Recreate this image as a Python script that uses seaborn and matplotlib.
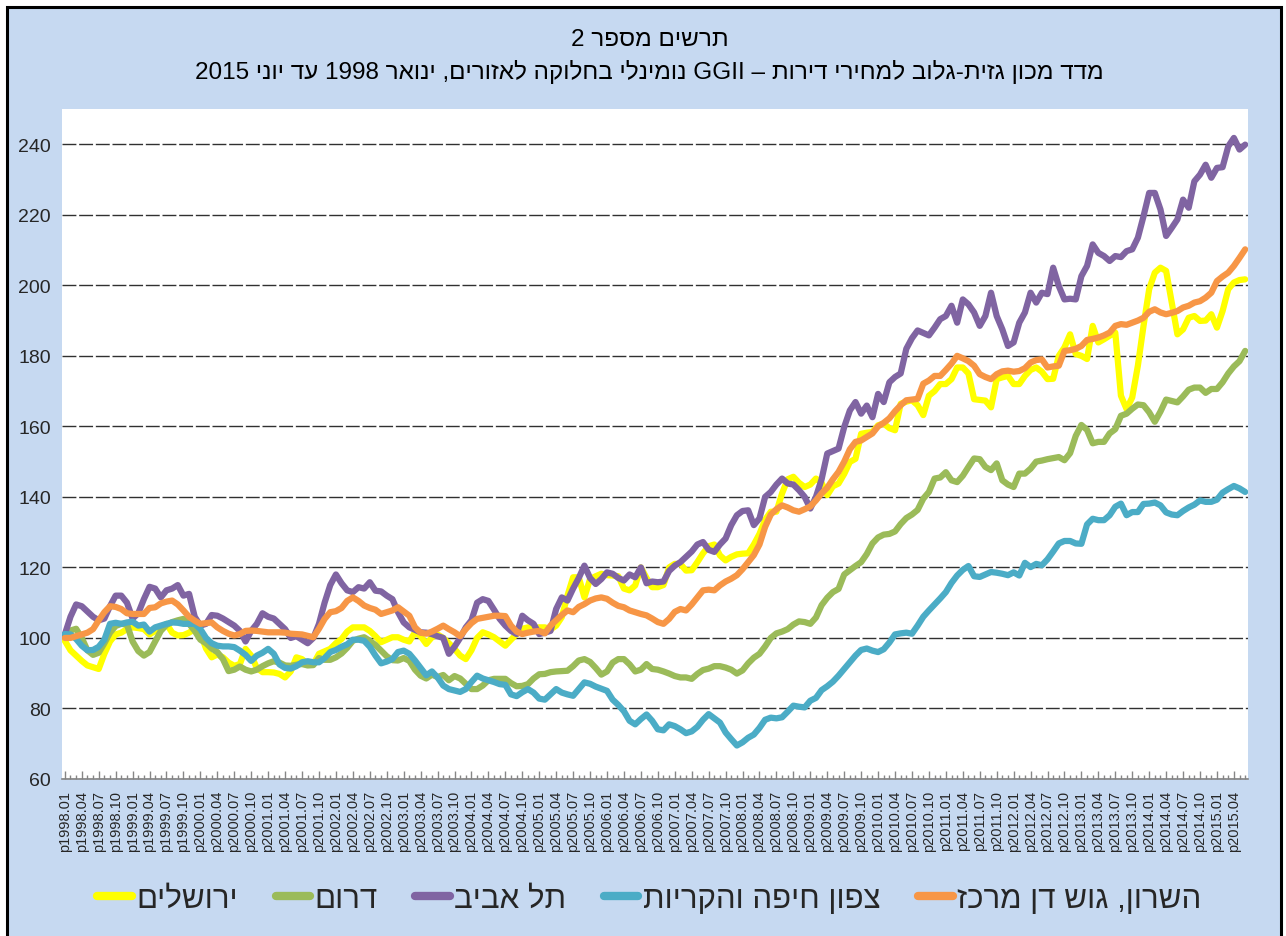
import re
import numpy as np
import pandas as pd
import matplotlib
matplotlib.use("Agg")
import matplotlib.pyplot as plt
import seaborn as sns
from matplotlib.patches import Rectangle

# ---------------- data ----------------
title1 = "תרשים מספר 2"
title2 = "מדד מכון גזית-גלוב למחירי דירות – GGII נומינלי בחלוקה לאזורים, ינואר 1998 עד יוני 2015"

regions = ["ירושלים", "דרום", "תל אביב", "צפון חיפה והקריות", "השרון, גוש דן מרכז"]
colors = ["#FFFF00", "#9BBB59", "#8064A2", "#4BACC6", "#F79646"]

start_year, start_month = 1998, 1
n_months = 210  # 1998.01 .. 2015.06

jerusalem = [
    99.2, 96.5, 95, 93.5, 92.2, 91.7, 91.2, 95.5, 99, 101, 101.5, 102.5,
    103, 102.8, 102.5, 101, 102, 103, 104, 101.5, 100.7, 100.8, 101.5, 102.6,
    101.5, 97, 94.5, 95.3, 94.5, 93, 92.1, 92.6, 96.9, 95, 91.5, 90.3,
    90.3, 90.2, 89.8, 88.8, 90.5, 94.5, 94, 92.6, 92.6, 95.5, 96.2, 96.9,
    98.5, 99.7, 101.8, 103, 103, 103, 102, 100.5, 98.8, 99.5, 100.2, 100.2,
    99.5, 99, 101.6, 100.5, 98.3, 100.2, 101, 100, 98.5, 96.9, 95, 94,
    96.5, 100, 101.6, 101, 100.2, 99, 97.8, 99.5, 101.1, 102.6, 103, 102.8,
    103, 103, 102.4, 103.5, 105.9, 112, 117.2, 117.2, 111.5, 116.7, 117.5, 118.2,
    117.8, 117.7, 117.5, 114, 113.5, 114.9, 120, 117, 114.4, 114.4, 115, 120,
    121, 121, 119.1, 119.2, 121.5, 124, 126, 126.5, 123.4, 122, 123, 123.7,
    123.9, 124, 126.5, 129.5, 133.5, 135.8, 135.8, 141, 145, 145.7, 144, 142.8,
    143.5, 145.2, 144, 140.5, 143, 143.8, 146.5, 149.9, 150.8, 157.9, 158.2, 158.4,
    160.3, 160.8, 159.5, 158.9, 166.4, 167, 167.4, 166, 163.2, 168.7, 170, 172,
    172, 173.4, 176.7, 176.7, 175, 167.7, 167.5, 167.3, 165.4, 173.4, 173.9, 174.3,
    172, 172, 174.3, 176, 176.7, 175.5, 173.4, 173.5, 180, 182.4, 186.1, 180.5,
    180, 179.1, 188.5, 183.8, 184.7, 185.7, 186.6, 168.7, 164.9, 168.2, 177.2, 188.5,
    198.9, 203.6, 205, 204.1, 195.1, 186.1, 187.5, 190.8, 191.3, 189.9, 190, 191.8,
    188, 192.7, 198.9, 200.8, 201.5, 201.7,
]

south = [
    100.7, 102.1, 102.6, 100, 96.5, 95.2, 95.8, 98.5, 101.5, 103.4, 104, 103.8,
    99, 96.3, 95, 96, 99, 102, 103.7, 104.5, 105, 105.4, 104, 102,
    99.5, 98.5, 97, 96, 94, 90.6, 91, 91.9, 91, 90.5, 91, 92,
    92.8, 93.4, 93, 92.2, 92.1, 92.4, 92.6, 92.2, 92.3, 94.3, 93.8, 93.8,
    94.5, 95.6, 97.2, 99.2, 99.8, 100.2, 99.2, 98, 96.4, 94.8, 93.7, 93.6,
    94.3, 93.5, 91, 89.3, 88.5, 89.6, 88.9, 89.5, 88, 89.2, 88.5, 87,
    85.5, 85.5, 86.5, 88, 88.4, 88.4, 88.4, 87.2, 86.3, 86.4, 86.9, 88.5,
    89.7, 89.8, 90.3, 90.5, 90.6, 90.7, 92, 93.6, 94, 93.2, 91.5, 89.6,
    90.5, 93, 94, 94, 92.5, 90.5, 91, 92.6, 91.2, 91, 90.5, 89.9,
    89.2, 88.8, 88.8, 88.4, 89.8, 90.9, 91.3, 92, 92, 91.6, 91, 89.9,
    90.8, 92.8, 94.4, 95.5, 97.6, 100, 101.3, 101.8, 102.5, 103.8, 104.7, 104.5,
    104, 105.8, 109.3, 111.4, 113, 113.9, 118, 119.2, 120.4, 121.5, 123.8, 126.8,
    128.5, 129.3, 129.5, 130.2, 132.3, 134, 135, 136.3, 139.5, 141.4, 145.2, 145.5,
    147, 144.7, 144.2, 146, 148.5, 150.9, 150.7, 148.5, 147.6, 149.5, 144.7, 143.5,
    142.8, 146.6, 146.6, 148, 150, 150.3, 150.7, 151, 151.3, 150.4, 152.4, 157.3,
    160.4, 159, 155.2, 155.6, 155.6, 158, 159.2, 163, 163.6, 165, 166.2, 166,
    164, 161.3, 164.2, 167.6, 167.2, 166.8, 168.5, 170.4, 171, 171, 169.5, 170.6,
    170.6, 172.5, 175, 177, 178.5, 181.4,
]

tel_aviv = [
    101, 106, 109.5, 109, 107.5, 106, 105, 105.5, 109, 112, 112, 110,
    105.5, 107, 111, 114.5, 114, 111.5, 113.5, 114, 115, 112, 112.5, 106,
    103.5, 104, 106.5, 106.3, 105.5, 104.5, 103.5, 102, 99, 102, 104, 107,
    106, 105.5, 104, 102.5, 100, 100.5, 99.5, 98.5, 100, 104, 110, 115,
    118, 115.5, 113.5, 113, 114.4, 114, 115.8, 113.4, 113.2, 112, 111, 107.3,
    104.4, 103, 102.3, 101.6, 101.5, 101.1, 100.5, 100, 95.5, 97.5, 100, 103,
    105, 110, 111, 110.5, 108, 105.4, 103.5, 102, 101.1, 106.3, 105, 104,
    101.1, 101.5, 102, 108.2, 111.5, 110.6, 114, 117, 120.5, 117, 115.3, 116.7,
    118.6, 118.2, 117, 116.3, 118, 117.2, 120, 115.5, 116, 115.8, 116, 119,
    120.5, 121.5, 123, 124.5, 126.5, 127.2, 125, 124.4, 126.5, 128.2, 132, 134.8,
    136, 136.2, 132, 133.9, 140, 141.4, 143.5, 145.2, 143.8, 143.5, 141.9, 140,
    136.7, 140, 145, 152.3, 153, 153.7, 159.8, 164.5, 166.9, 163.6, 165.9, 162.6,
    169.2, 166.9, 172.5, 174, 175, 182, 185, 187.2, 186.5, 185.8, 188, 190.4,
    191.3, 194.2, 189.4, 196, 194.6, 192.3, 188.5, 191.3, 197.9, 191.3, 187.5, 182.8,
    183.8, 189.4, 192.3, 197.9, 195.1, 197.9, 197.5, 205, 199.8, 196, 196.2, 196,
    202.6, 205.5, 211.6, 209.2, 208.3, 206.9, 208.3, 208, 209.7, 210.2, 213.5, 219.6,
    226.2, 226.2, 221.5, 214, 216.3, 218.7, 224.3, 222, 229.5, 231.4, 234.2, 230.5,
    233.3, 233.5, 239.4, 241.8, 238.5, 239.9,
]

north_haifa = [
    101.1, 101, 99.7, 97.8, 96.5, 96.6, 97.5, 99.5, 104, 104.3, 104, 104.4,
    104.6, 103.5, 103.8, 101.8, 103, 103.5, 104, 104.4, 104.3, 104, 104, 104,
    102.5, 100, 98.5, 97.8, 97.6, 97.6, 97.4, 96.4, 95.2, 93.5, 95, 95.8,
    96.9, 95.5, 92.5, 91.5, 91.3, 92, 93.1, 93.4, 93.1, 93.1, 94.3, 96,
    96.6, 97.5, 98.2, 99.5, 99.5, 99.2, 97.5, 95, 92.8, 93.3, 94, 96,
    96.4, 95.5, 93.6, 91.5, 89.4, 90.5, 88.8, 86.5, 85.5, 85.1, 84.7, 85.5,
    87.5, 89.3, 88.5, 88, 87.5, 86.9, 86.7, 84, 83.5, 84.6, 85.5, 84.5,
    82.8, 82.5, 84, 85.5, 84.5, 84, 83.6, 85.5, 87.4, 87, 86.2, 85.6,
    85, 82.5, 81, 79.2, 76.5, 75.5, 77, 78.3, 76.5, 74.1, 73.8, 75.5,
    75, 74.1, 73, 73.5, 74.8, 76.8, 78.4, 77.2, 76, 73.2, 71.3, 69.5,
    70.4, 71.7, 72.6, 74.5, 76.8, 77.4, 77.2, 77.5, 79.1, 80.8, 80.5, 80.3,
    82.2, 83, 85.2, 86.3, 87.6, 89.3, 91.2, 93.1, 95, 96.6, 97, 96.4,
    96, 96.8, 98.7, 101, 101.3, 101.5, 101.2, 103.5, 106, 107.8, 109.5, 111.2,
    113, 115.6, 117.7, 119.3, 120.4, 117.5, 117.3, 118, 118.7, 118.5, 118.2, 117.8,
    118.6, 117.7, 121.3, 120.1, 121, 120.6, 122.3, 124.5, 126.8, 127.5, 127.5, 126.8,
    126.7, 132.2, 133.8, 133.4, 133.4, 134.8, 137.2, 138.1, 134.8, 135.7, 135.7, 138,
    138.1, 138.4, 137.6, 135.6, 135, 134.8, 136, 137, 137.8, 139, 138.6, 138.6,
    139.2, 141.2, 142.2, 143.1, 142.4, 141.4,
]

center = [
    100, 100, 100.5, 101, 101.5, 102.5, 105, 107.3, 109, 108.8, 108.2, 107,
    106.8, 106.8, 106.8, 108.5, 108.7, 109.8, 110.3, 110.6, 109.5, 107.8, 106, 104.9,
    104, 104.2, 104.4, 103, 102, 101.2, 100.7, 101.1, 102, 102.1, 102, 101.8,
    101.6, 101.6, 101.6, 101.5, 101.2, 101.1, 101, 100.6, 100.2, 102.6, 105.4, 107.3,
    107.6, 108.5, 110.5, 111.5, 110.5, 109.2, 108.5, 108, 106.8, 107.3, 107.8, 108.7,
    107.5, 106.3, 103, 101.5, 101.2, 101.8, 102.6, 103.5, 102.5, 101.6, 100.5, 102.5,
    104.2, 105.4, 105.7, 106, 106.3, 106.3, 106.2, 103.5, 101.8, 101.1, 101.5, 101.8,
    102, 101.3, 103.5, 105, 106.5, 107.8, 107.3, 108.8, 109.6, 110.6, 111.2, 111.5,
    111.1, 110, 109.1, 108.7, 107.8, 107.3, 106.8, 106.4, 105.5, 104.5, 104, 105.4,
    107.4, 108.2, 107.8, 109.5, 111.5, 113.5, 113.7, 113.5, 114.9, 116, 116.8, 117.8,
    119.5, 121.5, 123.5, 126.5, 131.5, 135, 136.5, 137.6, 137, 136.2, 135.8, 136.5,
    137.3, 139, 141, 142.6, 145, 147.1, 150, 153.5, 155.6, 156, 157, 158,
    160, 161, 162.3, 164.3, 166, 167.4, 167.6, 167.8, 172.1, 173, 174.3, 174.3,
    176, 177.8, 180, 179.3, 178.5, 177.2, 174.8, 174, 173.4, 174.8, 175.6, 175.8,
    175.5, 175.7, 176.5, 178.1, 178.8, 179, 176.7, 177, 177.2, 181.4, 181.6, 182,
    182.8, 184.5, 184.8, 185.2, 185.8, 186.6, 188.5, 189, 188.8, 189.4, 190, 190.8,
    192.5, 193.2, 192.3, 191.8, 192.2, 192.7, 193.7, 194.2, 195.1, 195.5, 196.5, 197.9,
    201.2, 202.5, 203.6, 205.5, 207.8, 210.2,
]

series = [jerusalem, south, tel_aviv, north_haifa, center]
y_ticks = [60, 80, 100, 120, 140, 160, 180, 200, 220, 240]


# --------------- helpers ---------------
def vis(s):
    """Logical RTL string -> visual order for matplotlib (no bidi support)."""
    r = s[::-1]
    return re.sub(r"[A-Za-z0-9]+(?:[.][A-Za-z0-9]+)*",
                  lambda m: m.group(0)[::-1], r)


month_labels = []
y, m = start_year, start_month
for _ in range(n_months):
    month_labels.append(f"p{y}.{m:02d}")
    m += 1
    if m > 12:
        m = 1
        y += 1

frames = []
for name, vals in zip(regions, series):
    frames.append(pd.DataFrame({"idx": np.arange(len(vals)),
                                "value": vals,
                                "region": vis(name)}))
df = pd.concat(frames, ignore_index=True)

# --------------- plot ---------------
sns.set_theme(style="white")
plt.rcParams["font.family"] = ["Liberation Sans", "DejaVu Sans"]
plt.rcParams["lines.solid_joinstyle"] = "round"
plt.rcParams["lines.solid_capstyle"] = "round"

W, H = 1286, 937
fig = plt.figure(figsize=(W / 100, H / 100), dpi=100, facecolor="white")
fig.patches.append(Rectangle((7 / W, -0.02), (1281 - 7) / W, 1.02 - 8 / H,
                             transform=fig.transFigure, facecolor="#C6D9F1",
                             edgecolor="black", linewidth=2.2, zorder=-10))

ax = fig.add_axes([62 / W, 1 - 780 / H, (1248 - 62) / W, (780 - 110) / H])
ax.set_zorder(1)
ax.set_facecolor("white")

hue_order = [vis(r) for r in regions]
sns.lineplot(data=df, x="idx", y="value", hue="region", hue_order=hue_order,
             palette=colors, linewidth=4.5, ax=ax, legend=True, sort=False)

ax.set_xlim(-0.5, n_months - 0.5)
ax.set_ylim(60, 250)
ax.set_yticks(y_ticks)
ax.set_yticklabels([str(v) for v in y_ticks])
ax.yaxis.grid(True, color="#303030", linestyle=(0, (10, 2)), linewidth=1.0)
ax.set_axisbelow(True)

ax.set_xticks(range(0, n_months, 3))
ax.set_xticklabels(month_labels[::3], rotation=90)
ax.set_xticks(range(n_months), minor=True)
ax.tick_params(axis="x", which="major", direction="in", length=6, width=1,
               color="#868686", labelsize=10.5, pad=8, bottom=True)
ax.tick_params(axis="x", which="minor", direction="in", length=3, width=1,
               color="#868686", bottom=True)
ax.tick_params(axis="y", length=0, labelsize=14, pad=8)
ax.set_xlabel("")
ax.set_ylabel("")
for side in ["top", "right", "left"]:
    ax.spines[side].set_visible(False)
ax.spines["bottom"].set_color("#868686")
ax.spines["bottom"].set_linewidth(1.2)

handles, labels = ax.get_legend_handles_labels()
ax.get_legend().remove()
for h in handles:
    h.set_linewidth(6)
fig.legend(handles, labels, loc="center", bbox_to_anchor=(0.505, 0.04),
           ncol=5, frameon=False, fontsize=22.5, handlelength=1.1,
           handletextpad=0.15, columnspacing=1.2)

fig.text(0.505, 1 - 40 / H, vis(title1), ha="center", va="center",
         fontsize=17.5, color="black")
fig.text(0.505, 1 - 72 / H, vis(title2), ha="center", va="center",
         fontsize=17.5, color="black")

fig.savefig("out.png", dpi=100, facecolor=fig.get_facecolor())
